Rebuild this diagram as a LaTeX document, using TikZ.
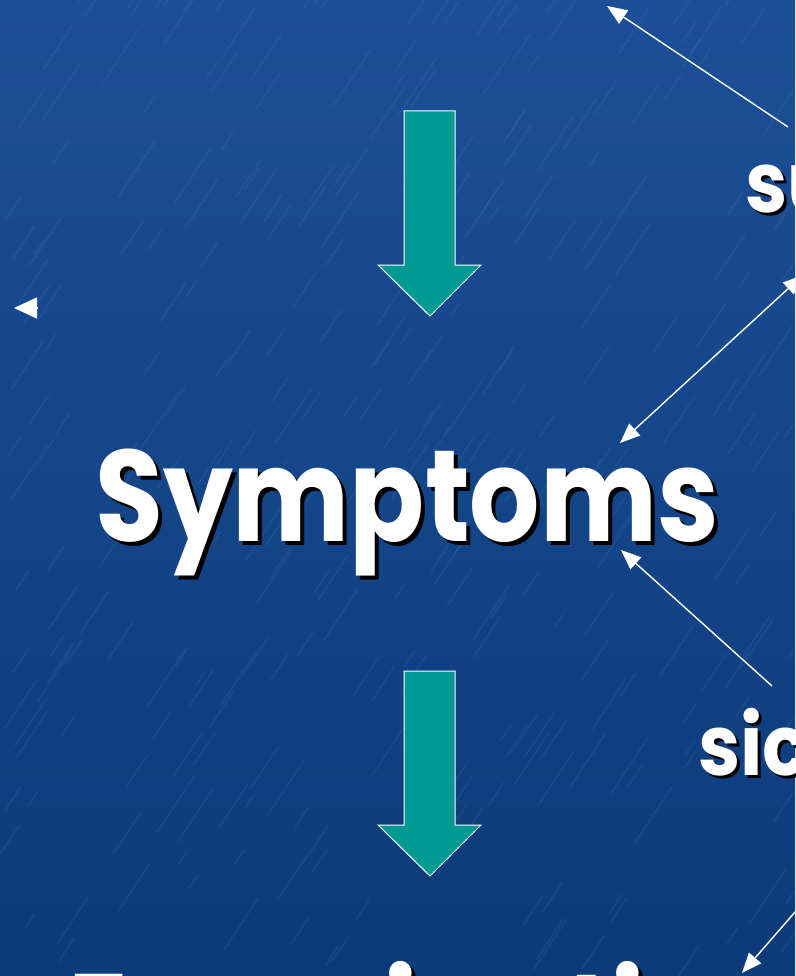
\documentclass[tikz,border=0pt]{standalone}
\usepackage{fontspec}
\setmainfont{Poppins}
\usetikzlibrary{arrows.meta}
\definecolor{slideBlue}{HTML}{1D4F98}
\definecolor{slideBlueD}{HTML}{0C3B7A}
\definecolor{slideBlueL}{HTML}{5A8ED0}
\definecolor{slideTeal}{HTML}{009A92}

\begin{document}
\begin{tikzpicture}[x=1pt,y=-1pt,
  bigtxt/.style={font=\fontsize{130}{140}\selectfont\bfseries,
                 inner sep=0pt,anchor=base west,xscale=0.85,transform shape},
  sidetxt/.style={font=\fontsize{84}{90}\selectfont\bfseries,
                  inner sep=0pt,anchor=base west,xscale=0.9,transform shape},
  shd/.style={text=black},
  lit/.style={text=white},
  warr/.style={white,line width=1.4pt,-{Triangle[length=20pt,width=16pt]}},
  wdarr/.style={white,line width=1.4pt,
                {Triangle[length=20pt,width=16pt]}-{Triangle[length=20pt,width=16pt]}},
  blkarr/.style={fill=slideTeal,draw=white,line width=1pt,line join=miter}]

\useasboundingbox (0,0) rectangle (795,976);
\clip (0,0) rectangle (795,976);

%% slide background
\fill[top color=slideBlue,bottom color=slideBlueD] (0,0) rectangle (795,976);
\pgfmathsetseed{11}
\foreach \i in {1,...,320}{
  \pgfmathsetmacro\sx{rnd*795}
  \pgfmathsetmacro\sy{rnd*976}
  \pgfmathsetmacro\sl{15+rnd*55}
  \draw[slideBlueL,opacity=0.12,line width=1.6pt,line cap=round]
    (\sx,\sy) -- ++({\sl*0.55},{-\sl*0.83});
}

%% teal block arrows
\draw[blkarr] (404,111) -- (455,111) -- (455,265) -- (481,265)
  -- (430,316) -- (378,265) -- (404,265) -- cycle;
\draw[blkarr] (404,671) -- (455,671) -- (455,825) -- (481,825)
  -- (430,876) -- (378,825) -- (404,825) -- cycle;

%% words
\node[bigtxt,shd] (sympS) at (99,545) {Symptoms};
\node[bigtxt,lit] (symp)  at (95,541) {Symptoms};

\node[sidetxt,shd] (suS) at (748,216) {su};
\node[sidetxt,lit] (su)  at (745,213) {su};

\node[sidetxt,shd] (sicS) at (701,778) {sic};
\node[sidetxt,lit] (sic)  at (698,775) {sic};

\node[bigtxt,shd] (examS) at (72,1069) {Examination};
\node[bigtxt,lit] (exam)  at (68,1065) {Examination};

%% thin white pointers
\coordinate (p1s) at (788,127);  \coordinate (p1e) at (607,6);
\coordinate (p2a) at (620,443);  \coordinate (p2b) at (803,275);
\coordinate (p3s) at (772,686);  \coordinate (p3e) at (621,550);
\coordinate (p4s) at (802,904);  \coordinate (p4e) at (742,973);
\coordinate (p5s) at (37,308);   \coordinate (p5e) at (14,308);

\draw[warr]  (p1s) -- (p1e);
\draw[wdarr] (p2a) -- (p2b);
\draw[warr]  (p3s) -- (p3e);
\draw[warr]  (p4s) -- (p4e);
\draw[white,line width=1.4pt,-{Triangle[length=23pt,width=21pt]}] (p5s) -- (p5e);
\end{tikzpicture}
\end{document}
